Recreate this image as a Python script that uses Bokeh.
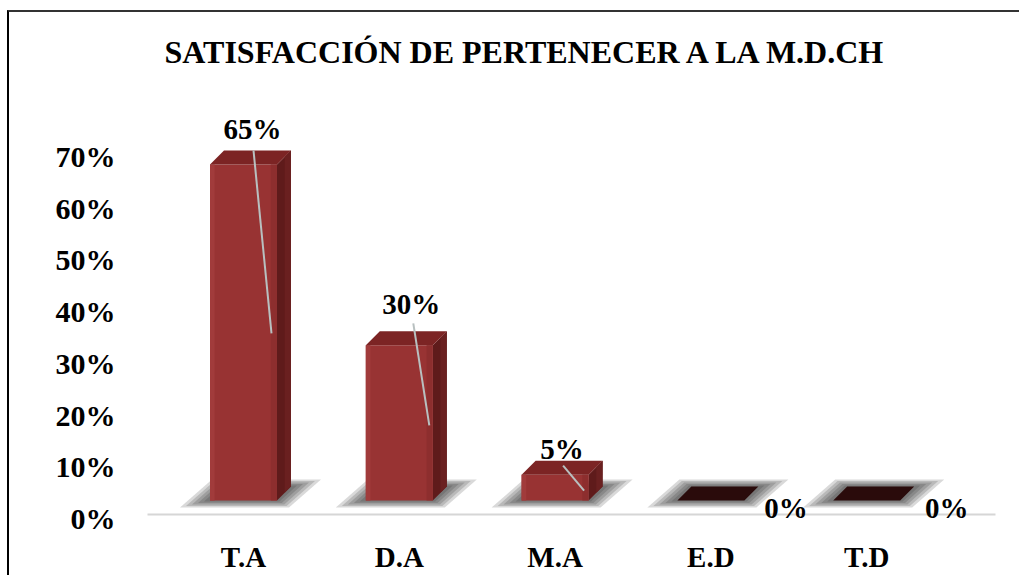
from bokeh.plotting import figure
from bokeh.models import Range1d, LinearAxis, FixedTicker
from bokeh.embed import file_html
from bokeh.resources import INLINE
from bokeh.core.properties import value

# ---------------- data ----------------
categories = ["T.A", "D.A", "M.A", "E.D", "T.D"]
percent = [65, 30, 5, 0, 0]
y_ticks = [0, 10, 20, 30, 40, 50, 60, 70]
title_text = "SATISFACCIÓN DE PERTENECER A LA M.D.CH"

# ---------------- styling / geometry (pixels) ----------------
PXX = 155.8          # pixels per category step
PXY = 5.171          # pixels per percent
X0, X1 = -0.7895, 4.968
Y0, Y1 = -6.188, 94.37
AXIS_SHIFT = 18 / PXY   # back-wall axis sits lower than the bar fronts
FONT = "Liberation Serif"

HALF_W = 33.5 / PXX     # half width of the front face
DX = 14 / PXX           # 3-D depth offset
DY = 14 / PXY

# title placement (px from the first bar's base point)
TITLE_DX, TITLE_DY = 283, 448

# label offsets (px) relative to (category centre, bar top)
label_dx = [9, 12, 7, 75, 80]
label_dy = [35, 41, 26, -7, -7]
# leader lines (px) relative to (category centre, bar top): start and end
leader = [((10, 14), (28, -169)), ((14, 22), (30, -80)), ((8, 9), (29, -16)), None, None]

p = figure(frame_width=897, frame_height=520, output_backend="svg", toolbar_location=None,
           x_range=Range1d(X0, X1), y_range=Range1d(Y0, Y1),
           y_axis_location=None, x_axis_location="below",
           min_border_left=111, min_border_right=2, min_border_top=0, min_border_bottom=38)
p.styles = {"border-left": "2px solid #000000", "border-top": "2px solid #333333",
            "margin-top": "10px", "margin-left": "7px"}
p.outline_line_color = None
p.grid.visible = False
p.background_fill_color = "white"
p.border_fill_color = "white"

# y axis on a shifted range
p.extra_y_ranges = {"ax": Range1d(Y0 + AXIS_SHIFT, Y1 + AXIS_SHIFT)}
yax = LinearAxis(y_range_name="ax", ticker=FixedTicker(ticks=y_ticks),
                 major_label_overrides={t: f"{t}%" for t in y_ticks})
yax.axis_line_color = None
yax.major_tick_line_color = None
yax.minor_tick_line_color = None
yax.major_label_text_font = FONT
yax.major_label_text_font_style = "bold"
yax.major_label_text_font_size = "30px"
yax.major_label_text_color = "black"
yax.major_label_standoff = -1
p.add_layout(yax, "left")

xs_idx = list(range(len(categories)))
xax = p.xaxis[0]
xax.ticker = FixedTicker(ticks=xs_idx)
xax.major_label_overrides = {i: c for i, c in zip(xs_idx, categories)}
xax.axis_line_color = None
xax.major_tick_line_color = None
xax.minor_tick_line_color = None
xax.major_label_text_font = FONT
xax.major_label_text_font_style = "bold"
xax.major_label_text_font_size = "29px"
xax.major_label_text_color = "black"
xax.major_label_standoff = 2

# title (drawn inside the canvas so the serif face is kept)
p.text(x=[TITLE_DX / PXX], y=[TITLE_DY / PXY], text=[title_text],
       text_font=value(FONT), text_font_style="bold", text_font_size="32px",
       text_color="black", text_align="center", text_baseline="middle")

# floor line
p.line([(147 - 243) / PXX, (995 - 243) / PXX], [-14 / PXY, -14 / PXY],
       line_color="#d6d6d6", line_width=2)

# shadows
for k, (ex, ey) in enumerate([(30, 7), (24, 5.5), (18, 4), (12, 2.5), (6, 1)]):
    sxs, sys_ = [], []
    for i in xs_idx:
        L, R = i - HALF_W, i + HALF_W
        exu, eyu = ex / PXX, ey / PXY
        sxs.append([L - exu, R + exu * 0.4, R + DX + exu, L + DX - exu * 0.4])
        sys_.append([-eyu, -eyu, DY + eyu, DY + eyu])
    p.patches(sxs, sys_, fill_color="#202020", fill_alpha=0.17, line_color=None)

# bars
for i, v in zip(xs_idx, percent):
    L, R = i - HALF_W, i + HALF_W
    if v > 0:
        # side face
        p.patch([R, R + DX, R + DX, R], [0, DY, v + DY, v], fill_color="#5f1b1b", line_color=None)
        p.patch([R + DX * 0.55, R + DX, R + DX, R + DX * 0.55], [DY * 0.55, DY, v + DY, v + DY * 0.55],
                fill_color="#6a2020", line_color=None)
        # front face
        p.quad(left=L, right=R, bottom=0, top=v, fill_color="#983333", line_color=None)
        p.quad(left=L, right=L + 0.03, bottom=0, top=v, fill_color="#a13b3b", line_color=None)
        p.quad(left=R - 0.04, right=R, bottom=0, top=v, fill_color="#8d2e2e", line_color=None)
        # top face
        p.patch([L, R, R + DX, L + DX], [v, v, v + DY, v + DY], fill_color="#7c2424", line_color=None)
    else:
        p.patch([L, R, R + DX, L + DX], [0, 0, DY, DY], fill_color="#2a0b0b", line_color=None)

# leader lines
for i, v, ld in zip(xs_idx, percent, leader):
    if ld is None:
        continue
    (sx, sy), (ex_, ey_) = ld
    p.line([i + sx / PXX, i + ex_ / PXX], [v + sy / PXY, v + ey_ / PXY],
           line_color="#b8c0c0", line_width=2)

# data labels
p.text(x=[i + dx / PXX for i, dx in zip(xs_idx, label_dx)],
       y=[v + dy / PXY for v, dy in zip(percent, label_dy)],
       text=[f"{v}%" for v in percent],
       text_font=value(FONT), text_font_style="bold", text_font_size="29px",
       text_color="black", text_align="center", text_baseline="middle")

open("out.html", "w").write(file_html(p, INLINE))
